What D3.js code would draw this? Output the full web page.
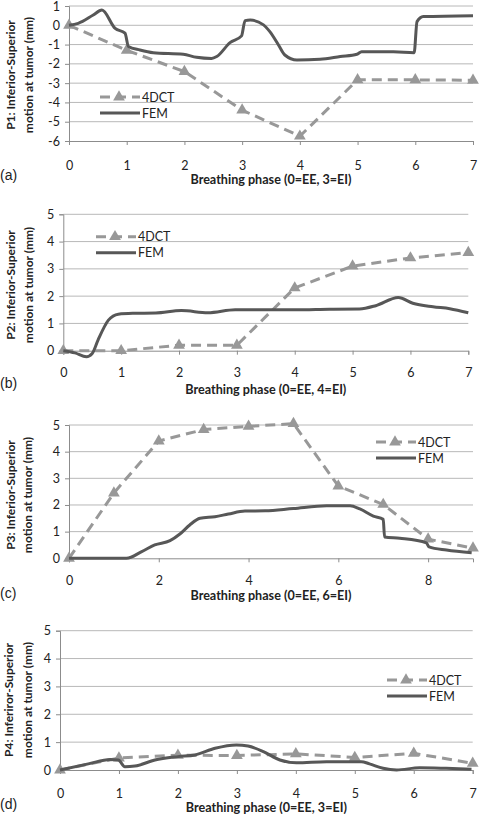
<!DOCTYPE html>
<html><head><meta charset="utf-8">
<script src="https://cdn.jsdelivr.net/npm/d3@7"></script>
<style>
html,body{margin:0;padding:0;background:#fff;}
svg{display:block;}
</style></head>
<body>
<svg id="chart" width="480" height="814"></svg>
<script>
// ---------- data ----------
const phasesA = [0,1,2,3,4,5,6,7];
const ct4dA = [0,-1.3,-2.4,-4.4,-5.75,-2.83,-2.83,-2.85];
const femXA = [0,0.16,0.42,0.57,0.8,0.97,1.03,1.23,1.46,1.98,2.21,2.47,2.56,2.79,2.99,3.05,3.14,3.37,3.48,3.63,3.74,3.95,4.35,4.7,4.99,5.07,5.62,5.98,6.03,6.14,7];
const femYA = [0,0.1,0.53,0.79,-0.16,-0.41,-1.1,-1.28,-1.42,-1.5,-1.66,-1.72,-1.62,-0.9,-0.55,0.24,0.27,0.02,-0.33,-1.02,-1.54,-1.8,-1.76,-1.62,-1.5,-1.37,-1.37,-1.42,0.19,0.45,0.5];

const phasesB = [0,1,2,3,4,5,6,7];
const ct4dB = [0,0,0.2,0.2,2.3,3.1,3.4,3.6];
const femXB = [0,0.2,0.4,0.5,0.6,0.78,0.95,1.2,1.6,2.04,2.5,2.97,3.5,4.0,4.6,5.12,5.4,5.79,6.04,6.39,6.68,7];
const femYB = [0,-0.08,-0.22,-0.1,0.39,1.12,1.34,1.37,1.38,1.47,1.39,1.5,1.5,1.5,1.52,1.53,1.65,1.95,1.74,1.61,1.54,1.39];

const phasesC = [0,1,2,3,4,5,6,7,8,9];
const ct4dC = [0,2.45,4.4,4.83,4.95,5.05,2.71,2.02,0.72,0.38];
const femXC = [0,1.28,1.62,1.91,2.25,2.47,2.69,2.92,3.25,3.55,3.92,4.37,5.0,5.74,6.26,6.48,6.78,7.0,7.03,7.37,7.96,8.02,8.41,8.97];
const femYC = [0,0,0.25,0.5,0.66,0.91,1.25,1.5,1.56,1.66,1.77,1.78,1.87,1.97,1.97,1.85,1.58,1.46,0.8,0.75,0.58,0.43,0.31,0.21];

const phasesD = [0,1,2,3,4,5,6,7];
const ct4dD = [0,0.43,0.53,0.52,0.58,0.45,0.6,0.24];
const femXD = [0,0.48,0.85,0.99,1.1,1.27,1.61,2.0,2.29,2.63,2.99,3.19,3.45,3.73,4.01,4.52,5.11,5.25,5.48,5.71,6.1,6.55,6.98];
const femYD = [0,0.22,0.38,0.36,0.12,0.14,0.36,0.48,0.54,0.78,0.9,0.86,0.66,0.36,0.26,0.3,0.3,0.22,0.06,0,0.08,0.06,0.03];

const ticksA = [-6,-5,-4,-3,-2,-1,0,1];
const ticks05 = [0,1,2,3,4,5];
const xTicks07 = [0,1,2,3,4,5,6,7];
const xTicks09 = [0,2,4,6,8];
const seriesNames = ["4DCT","FEM"];
const panelLetters = ["(a)","(b)","(c)","(d)"];
const xTitles = ["Breathing phase (0=EE, 3=EI)","Breathing phase (0=EE, 4=EI)","Breathing phase (0=EE, 6=EI)","Breathing phase (0=EE, 3=EI)"];
const yTitles = [
  ["P1: Inferior-Superior","motion at tumor (mm)"],
  ["P2: Inferior-Superior","motion at tumor (mm)"],
  ["P3: Inferior-Superior","motion  at tumor (mm)"],
  ["P4: Inferiror-Superior","motion at tumor (mm)"]
];

// ---------- layout ----------
const panels = [
  {x0:69, x1:473, yT:6, yB:141, xd:[0,7], yd:[-6,1], yTicks:ticksA, xTicks:xTicks07,
   phases:phasesA, ct:ct4dA, fx:femXA, fy:femYA, tickY:165, titleY:179, letterY:175,
   ytx:[10,28], ytc:75, leg:{x:100, y:97}},
  {x0:63.3, x1:468.3, yT:214.3, yB:350.7, xd:[0,7], yd:[0,5], yTicks:ticks05, xTicks:xTicks07,
   phases:phasesB, ct:ct4dB, fx:femXB, fy:femYB, tickY:372.7, titleY:389, letterY:383,
   ytx:[10,28], ytc:285, leg:{x:96, y:236.7}},
  {x0:69, x1:473, yT:425, yB:558.3, xd:[0,9], yd:[0,5], yTicks:ticks05, xTicks:xTicks09,
   phases:phasesC, ct:ct4dC, fx:femXC, fy:femYC, tickY:580, titleY:595.7, letterY:592.7,
   ytx:[10,27], ytc:495, leg:{x:376, y:442}},
  {x0:60, x1:472.7, yT:630.7, yB:770, xd:[0,7], yd:[0,5], yTicks:ticks05, xTicks:xTicks07,
   phases:phasesD, ct:ct4dD, fx:femXD, fy:femYD, tickY:793, titleY:807.7, letterY:804,
   ytx:[8,27], ytc:700, leg:{x:387, y:680}}
];

const C4 = "#989898", CF = "#575757", GRID = "#b8b8b8", AX = "#8c8c8c", TXT = "#222";
const FONT = "Lato, 'Open Sans', sans-serif";
const svg = d3.select("#chart");

const tri = d3.symbol().type(d3.symbolTriangle).size(60);

panels.forEach((p, i) => {
  const x = d3.scaleLinear().domain(p.xd).range([p.x0, p.x1]);
  const y = d3.scaleLinear().domain(p.yd).range([p.yB, p.yT]);
  const g = svg.append("g");

  // gridlines
  g.selectAll("line.grid").data(p.yTicks.slice(1)).enter().append("line")
    .attr("x1", p.x0).attr("x2", p.x1)
    .attr("y1", d => y(d)).attr("y2", d => y(d))
    .attr("stroke", GRID).attr("stroke-width", 1);

  // y axis
  const ya = d3.axisLeft(y).tickValues(p.yTicks).tickSize(4).tickFormat(d3.format("d"));
  const yG = g.append("g").attr("transform", `translate(${p.x0},0)`).call(ya);
  yG.select(".domain").attr("stroke", AX);
  yG.selectAll(".tick line").attr("stroke", AX);
  yG.selectAll(".tick text").attr("x", -9).attr("fill", TXT)
    .attr("font-family", FONT).attr("font-size", "12.5px")
    .text(d => d < 0 ? "-" + Math.abs(d) : d);

  // x axis
  const xa = d3.axisBottom(x).tickValues(p.xTicks).tickSize(4).tickFormat(d3.format("d"));
  const xG = g.append("g").attr("transform", `translate(0,${p.yB})`).call(xa);
  xG.select(".domain").attr("stroke", AX);
  xG.selectAll(".tick line").attr("stroke", AX);
  xG.selectAll(".tick text").attr("y", 0).attr("dy", null)
    .attr("transform", `translate(0,${p.tickY - p.yB})`)
    .attr("dominant-baseline", "central")
    .attr("fill", TXT).attr("font-family", FONT).attr("font-size", "12.5px");

  // x title
  g.append("text").attr("x", (p.x0 + p.x1) / 2 + 0).attr("y", p.titleY)
    .attr("text-anchor", "middle").attr("dominant-baseline", "central")
    .attr("font-family", FONT).attr("font-weight", "bold").attr("font-size", "12.6px")
    .attr("fill", TXT).text(xTitles[i]);

  // y title
  yTitles[i].forEach((t, k) => {
    g.append("text")
      .attr("transform", `translate(${p.ytx[k]},${p.ytc}) rotate(-90)`)
      .attr("text-anchor", "middle").attr("dominant-baseline", "central")
      .attr("font-family", FONT).attr("font-weight", "bold").attr("font-size", "12px")
      .attr("fill", TXT).text(t);
  });

  // panel letter
  g.append("text").attr("x", 0).attr("y", p.letterY)
    .attr("dominant-baseline", "central")
    .attr("font-family", "'Liberation Sans', Arial, sans-serif").attr("font-size", "14px")
    .attr("fill", TXT).text(panelLetters[i]);

  // 4DCT line
  const ctData = p.phases.map((d, j) => [d, p.ct[j]]);
  g.append("path").datum(ctData)
    .attr("d", d3.line().x(d => x(d[0])).y(d => y(d[1])))
    .attr("fill", "none").attr("stroke", C4).attr("stroke-width", 3)
    .attr("stroke-dasharray", "10,6");
  g.selectAll("path.mk").data(ctData).enter().append("path")
    .attr("d", tri).attr("transform", d => `translate(${x(d[0])},${y(d[1])})`)
    .attr("fill", C4);

  // FEM line
  const fData = p.fx.map((d, j) => [d, p.fy[j]]);
  g.append("path").datum(fData)
    .attr("d", d3.line().curve(d3.curveMonotoneX).x(d => x(d[0])).y(d => y(d[1])))
    .attr("fill", "none").attr("stroke", CF).attr("stroke-width", 3)
    .attr("stroke-linejoin", "round");

  // legend
  const L = p.leg;
  g.append("line").attr("x1", L.x).attr("x2", L.x + 40).attr("y1", L.y).attr("y2", L.y)
    .attr("stroke", C4).attr("stroke-width", 3).attr("stroke-dasharray", "10,6");
  g.append("path").attr("d", tri).attr("transform", `translate(${L.x + 19},${L.y})`).attr("fill", C4);
  g.append("line").attr("x1", L.x).attr("x2", L.x + 40).attr("y1", L.y + 16).attr("y2", L.y + 16)
    .attr("stroke", CF).attr("stroke-width", 3);
  seriesNames.forEach((n, k) => {
    g.append("text").attr("x", L.x + 42).attr("y", L.y + 16 * k)
      .attr("dominant-baseline", "central")
      .attr("font-family", FONT).attr("font-size", "12.5px").attr("fill", TXT).text(n);
  });
});
</script>
</body></html>
